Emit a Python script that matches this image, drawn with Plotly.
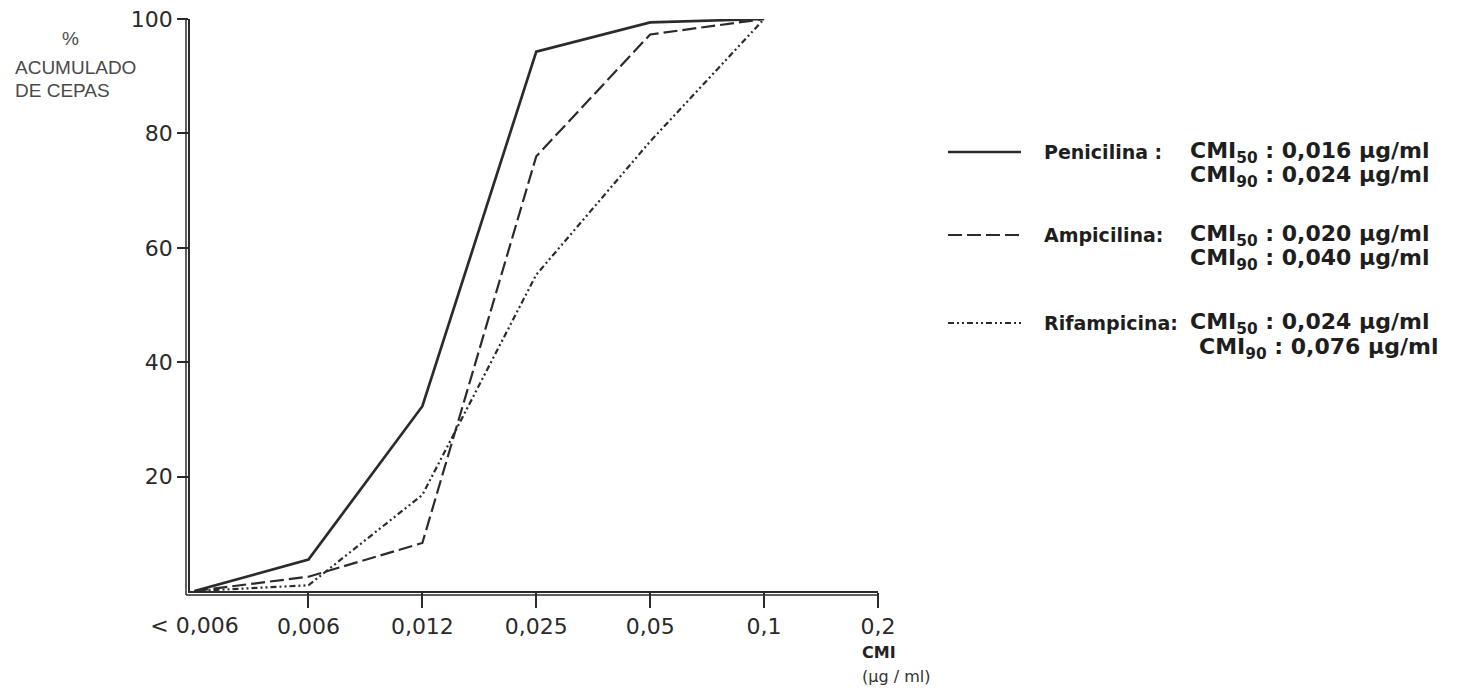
import plotly.graph_objects as go

# ---- data ----
categories = ["< 0,006", "0,006", "0,012", "0,025", "0,05", "0,1", "0,2"]
data_categories = ["< 0,006", "0,006", "0,012", "0,025", "0,05", "0,1"]
penicilina = [0, 5.5, 32.3, 94.3, 99.4, 100]
ampicilina = [0, 2.5, 8.4, 76.0, 97.3, 100]
rifampicina = [0, 1.0, 16.8, 55.3, 78.6, 100]
y_ticks = [20, 40, 60, 80, 100]

series_names = ["Penicilina :", "Ampicilina:", "Rifampicina:"]
cmi50 = ["0,016", "0,020", "0,024"]
cmi90 = ["0,024", "0,040", "0,076"]

INK = "#2b2b2b"
W, H = 1457, 694
OFF = 8  # page body margin of the html
# target screen positions of the plot area
SX0, SX1, SY0, SY1 = 190, 878, 19, 591
L, R, T, B = SX0 - OFF, W - (SX1 - OFF), SY0 - OFF, H - (SY1 - OFF)
PW, PH = W - L - R, H - T - B

def px(x):
    return (x - SX0) / PW

def py(y):
    return (SY1 - y) / PH

styles = [
    dict(color=INK, width=2.7, dash="solid"),
    dict(color=INK, width=2.2, dash="14px,5px"),
    dict(color=INK, width=2.2, dash="6px,3px,2px,3px,2px,3px"),
]

fig = go.Figure()
for vals, st, nm in zip([penicilina, ampicilina, rifampicina], styles, series_names):
    fig.add_trace(go.Scatter(x=data_categories, y=vals, mode="lines", line=st,
                             name=nm, showlegend=False, hoverinfo="skip"))
# invisible trace on overlay axis for the first tick label
fig.add_trace(go.Scatter(x=[categories[0]], y=[0], xaxis="x2", mode="markers",
                         marker=dict(opacity=0), showlegend=False, hoverinfo="skip"))

tick_font = dict(family="DejaVu Sans", size=22, color="#2a2a2a")
xrange = [-0.04, 6]

fig.update_layout(
    width=W, height=H,
    margin=dict(l=L, r=R, t=T, b=B, pad=0, autoexpand=False),
    paper_bgcolor="white", plot_bgcolor="white",
    showlegend=False,
    xaxis=dict(type="category", categoryorder="array", categoryarray=categories,
               range=xrange, tickvals=categories[1:], ticktext=categories[1:],
               ticks="outside", ticklen=15, tickwidth=1.5, tickcolor=INK,
               showline=True, linecolor=INK, linewidth=1.5, showgrid=False,
               zeroline=False, tickfont=tick_font, ticklabeloverflow="allow",
               automargin=False),
    xaxis2=dict(type="category", categoryorder="array", categoryarray=categories,
                overlaying="x", side="bottom", range=xrange,
                tickvals=[categories[0]], ticktext=[categories[0]],
                ticks="outside", ticklen=15, tickcolor="rgba(0,0,0,0)",
                showline=False, showgrid=False, zeroline=False, tickfont=tick_font,
                ticklabeloverflow="allow", automargin=False),
    yaxis=dict(range=[0, 100], tickvals=y_ticks, ticks="outside", ticklen=11,
               tickwidth=1.5, tickcolor=INK, showline=True, linecolor=INK,
               linewidth=1.5, showgrid=False, zeroline=False, tickfont=tick_font,
               ticklabeloverflow="allow", automargin=False),
)

# second (outer) axis lines for the double-line look
dx, dy = 4 / PW, 4 / PH
fig.add_shape(type="line", xref="paper", yref="paper", x0=-dx, x1=-dx, y0=-dy, y1=1.0,
              line=dict(color=INK, width=1.5))
fig.add_shape(type="line", xref="paper", yref="paper", x0=-dx, x1=1.0, y0=-dy, y1=-dy,
              line=dict(color=INK, width=1.5))

# y-axis title
lab_font = dict(family="Liberation Sans", size=19, color="#4a4a4a")
fig.add_annotation(text="%", xref="paper", yref="paper", x=px(70), y=py(38),
                   xanchor="center", yanchor="middle", showarrow=False, font=lab_font)
fig.add_annotation(text="ACUMULADO", xref="paper", yref="paper", x=px(13), y=py(67),
                   xanchor="left", yanchor="middle", showarrow=False, font=lab_font)
fig.add_annotation(text="DE CEPAS", xref="paper", yref="paper", x=px(13), y=py(90),
                   xanchor="left", yanchor="middle", showarrow=False, font=lab_font)

# x-axis title
fig.add_annotation(text="CMI", xref="paper", yref="paper", x=px(860), y=py(652),
                   xanchor="left", yanchor="middle", showarrow=False,
                   font=dict(family="DejaVu Sans", size=16, color="#222222", weight="bold"))
fig.add_annotation(text="(µg / ml)", xref="paper", yref="paper", x=px(860), y=py(676),
                   xanchor="left", yanchor="middle", showarrow=False,
                   font=dict(family="DejaVu Sans", size=16, color="#333333"))

# legend block
name_font = dict(family="DejaVu Sans", size=19, color="#1e1e1e", weight="bold")
cmi_font = dict(family="DejaVu Sans", size=22, color="#1e1e1e", weight="bold")
rows = [(152, 176, 1188, 1188), (235, 259, 1188, 1188), (323, 348, 1188, 1197)]
for i, (y1, y2, xa, xb) in enumerate(rows):
    fig.add_shape(type="line", xref="paper", yref="paper", x0=px(948), x1=px(1021),
                  y0=py(y1), y1=py(y1), line=styles[i])
    fig.add_annotation(text=series_names[i], xref="paper", yref="paper", x=px(1042), y=py(y1),
                       xanchor="left", yanchor="middle", showarrow=False, font=name_font)
    fig.add_annotation(text=f"CMI<sub>50</sub> : {cmi50[i]} µg/ml", xref="paper", yref="paper",
                       x=px(xa), y=py(y1), xanchor="left", yanchor="middle",
                       showarrow=False, font=cmi_font)
    fig.add_annotation(text=f"CMI<sub>90</sub> : {cmi90[i]} µg/ml", xref="paper", yref="paper",
                       x=px(xb), y=py(y2), xanchor="left", yanchor="middle",
                       showarrow=False, font=cmi_font)

fig.write_html("out.html")
